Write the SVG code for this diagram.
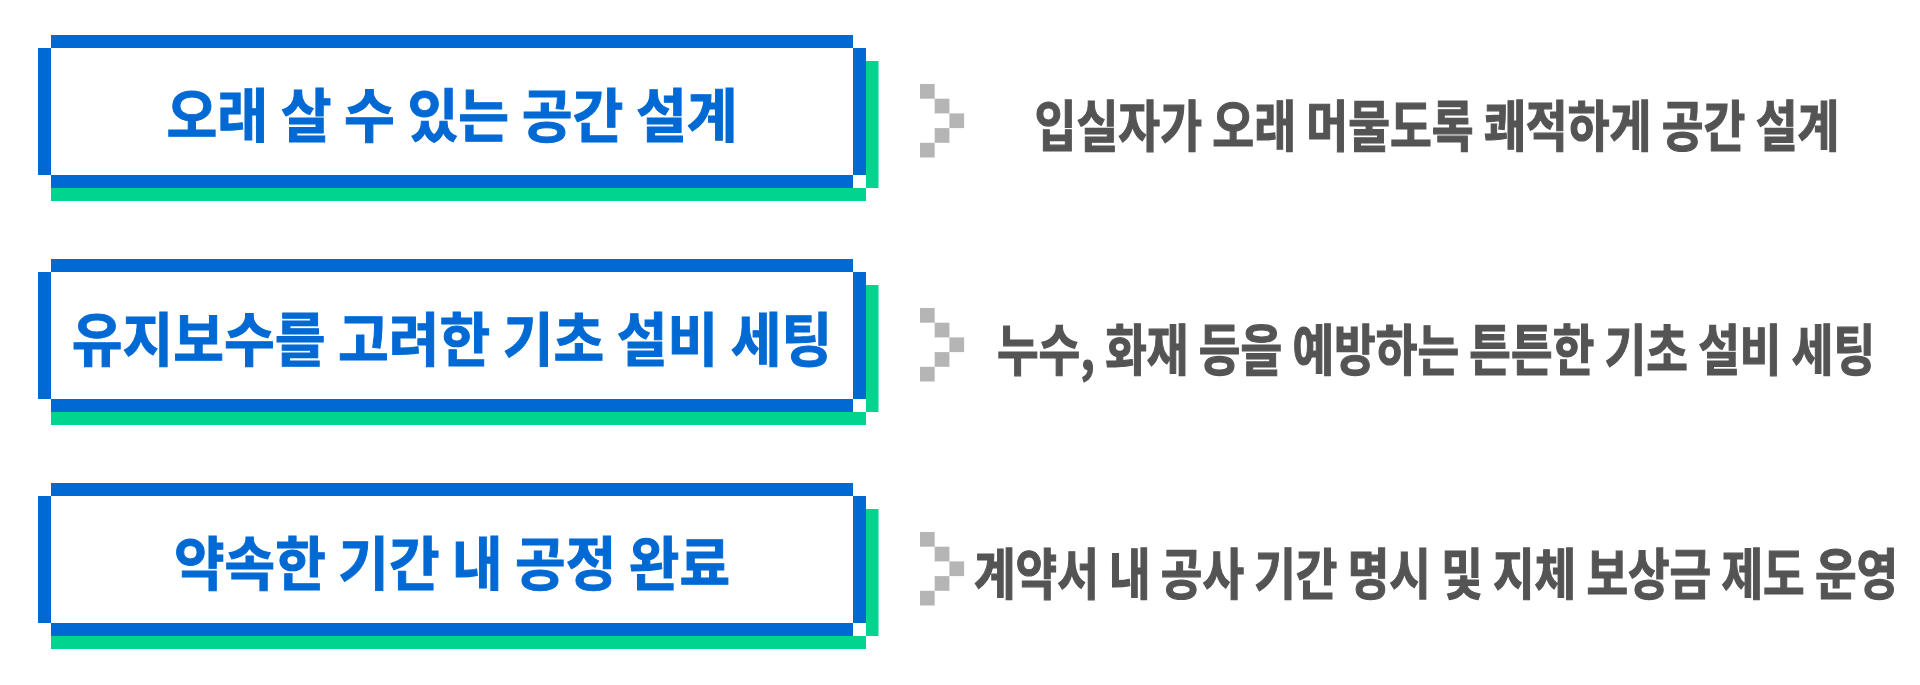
<svg xmlns="http://www.w3.org/2000/svg" width="1920" height="685" viewBox="0 0 1920 685">
<defs>
<style>
.b{fill:#0069D3}
.g{fill:#00D48E}
.sq{fill:#B5B5B5}
.t{font-family:"Noto Sans CJK KR","Noto Sans",sans-serif;font-weight:700;font-size:58px;fill:#0069D3;stroke:#0069D3;stroke-width:1;text-anchor:middle;dominant-baseline:central}
.d{font-family:"Noto Sans CJK KR","Noto Sans",sans-serif;font-weight:700;font-size:55px;fill:#545454;stroke:#545454;stroke-width:1.2;text-anchor:middle;dominant-baseline:central}
</style>
<g id="frame">
<rect class="g" x="866" y="26" width="12.5" height="127"/>
<rect class="g" x="51" y="153" width="815" height="13"/>
<rect class="b" x="51" y="0" width="802" height="13"/>
<rect class="b" x="38" y="13" width="13" height="127"/>
<rect class="b" x="853" y="13" width="13" height="127"/>
<rect class="b" x="51" y="140" width="802" height="13"/>
</g>
<g id="chev">
<rect class="sq" x="920" y="49" width="14.7" height="14.7"/>
<rect class="sq" x="934.7" y="63.7" width="14.7" height="14.7"/>
<rect class="sq" x="949.4" y="78.4" width="14.7" height="14.7"/>
<rect class="sq" x="934.7" y="93.1" width="14.7" height="14.7"/>
<rect class="sq" x="920" y="107.8" width="14.7" height="14.7"/>
</g>
</defs>
<rect width="1920" height="685" fill="#FFFFFF"/>
<g id="row1" transform="translate(0,35)">
<use href="#frame"/>
<text class="t" transform="translate(452,77) scale(0.88,1)" x="0" y="0" textLength="649" lengthAdjust="spacingAndGlyphs">오래 살 수 있는 공간 설계</text>
</g>
<g id="row2" transform="translate(0,259)">
<use href="#frame"/>
<text class="t" transform="translate(452,77) scale(0.88,1)" x="0" y="0" textLength="864" lengthAdjust="spacingAndGlyphs">유지보수를 고려한 기초 설비 세팅</text>
</g>
<g id="row3" transform="translate(0,483)">
<use href="#frame"/>
<text class="t" transform="translate(452,77) scale(0.88,1)" x="0" y="0" textLength="632" lengthAdjust="spacingAndGlyphs">약속한 기간 내 공정 완료</text>
</g>
<g id="connectors">
<use href="#chev" transform="translate(0,35)"/>
<use href="#chev" transform="translate(0,259)"/>
<use href="#chev" transform="translate(0,483)"/>
</g>
<g id="desc1" transform="translate(0,35)">
<text class="d" transform="translate(1437,87) scale(0.765,1)" x="0" y="0" textLength="1052" lengthAdjust="spacingAndGlyphs">입실자가 오래 머물도록 쾌적하게 공간 설계</text>
</g>
<g id="desc2" transform="translate(0,259)">
<text class="d" transform="translate(1436,87) scale(0.765,1)" x="0" y="0" textLength="1148" lengthAdjust="spacingAndGlyphs">누수, 화재 등을 예방하는 튼튼한 기초 설비 세팅</text>
</g>
<g id="desc3" transform="translate(0,483)">
<text class="d" transform="translate(1436,87) scale(0.765,1)" x="0" y="0" textLength="1208" lengthAdjust="spacingAndGlyphs">계약서 내 공사 기간 명시 및 지체 보상금 제도 운영</text>
</g>
</svg>
